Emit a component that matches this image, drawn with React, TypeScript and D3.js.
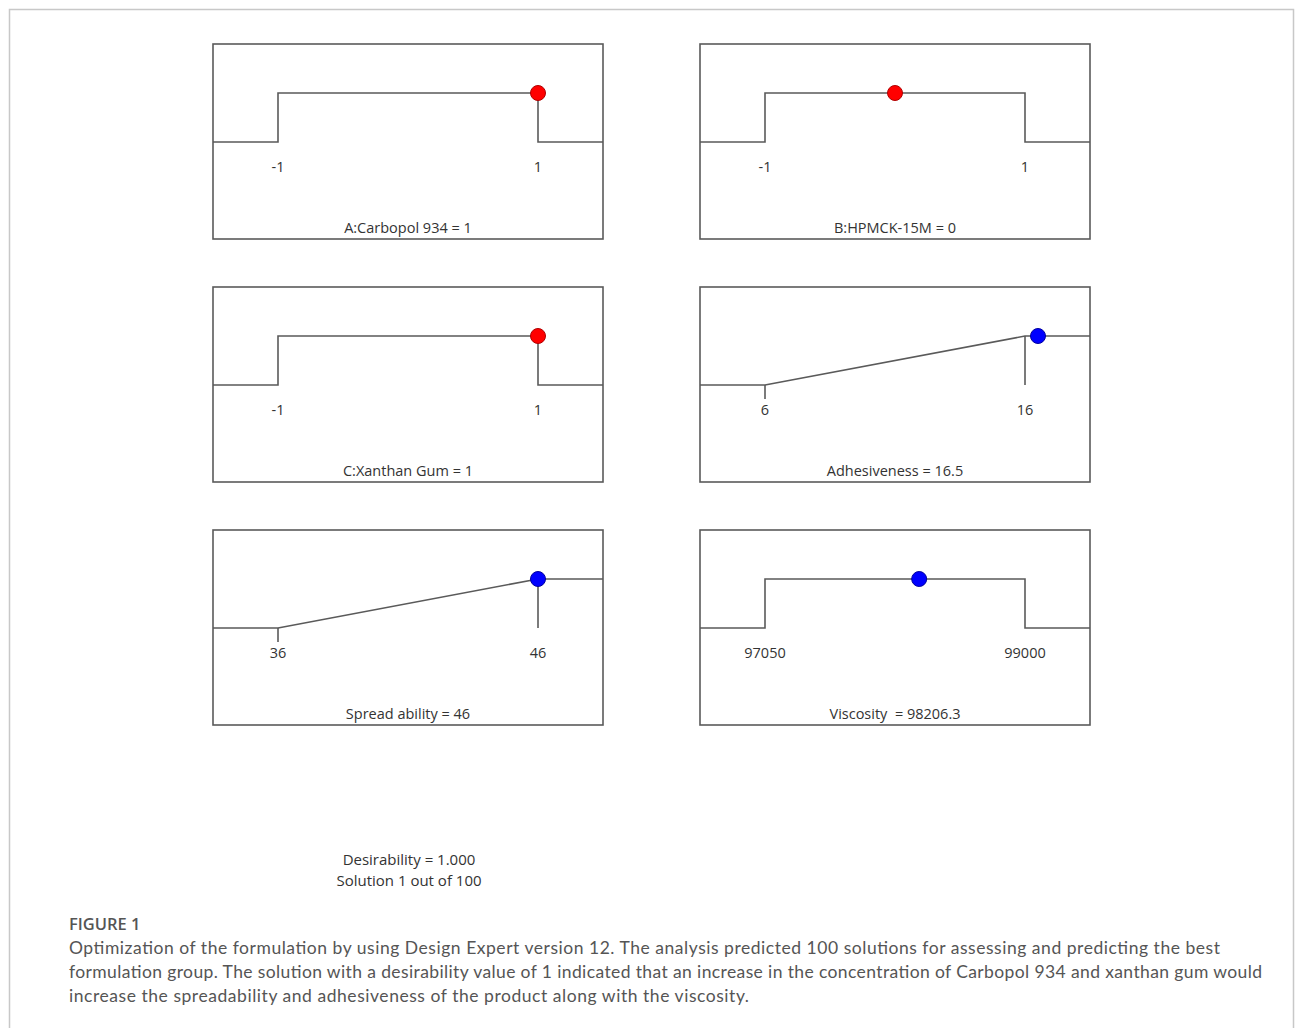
import * as d3 from "d3";

// Design Expert optimization ramps
const panelTitles = [
  "A:Carbopol 934 = 1",
  "B:HPMCK-15M = 0",
  "C:Xanthan Gum = 1",
  "Adhesiveness = 16.5",
  "Spread ability = 46",
  "Viscosity  = 98206.3",
];
const lowLimits = [-1, -1, -1, 6, 36, 97050];
const highLimits = [1, 1, 1, 16, 46, 99000];
const solutionValues = [1, 0, 1, 16.5, 46, 98206.3];
const goalTypes = ["range", "range", "range", "maximize", "maximize", "range"];
const markerColors = ["#ff0000", "#ff0000", "#ff0000", "#0000ff", "#0000ff", "#0000ff"];

const summaryLines = ["Desirability = 1.000", "Solution 1 out of 100"];
const figureLabel = "FIGURE 1";
const captionLines = [
  "Optimization of the formulation by using Design Expert version 12. The analysis predicted 100 solutions for assessing and predicting the best",
  "formulation group. The solution with a desirability value of 1 indicated that an increase in the concentration of Carbopol 934 and xanthan gum would",
  "increase the spreadability and adhesiveness of the product along with the viscosity.",
];
const captionWidths = [1151, 1193, 680];

const W = 1295;
const H = 1028;
const panelW = 390;
const panelH = 195;
const colX = [213, 700];
const rowY = [44, 287, 530];
const lineColor = "#5a5a5a";
const textColor = "#333";
const font = "'Open Sans', 'Noto Sans', sans-serif";

function Panel({ i }: { i: number }) {
  const lo = lowLimits[i];
  const hi = highLimits[i];
  const span = hi - lo;
  const x = d3.scaleLinear().domain([lo - span * 0.25, hi + span * 0.25]).range([0, panelW]);
  const y = d3.scaleLinear().domain([0, 1]).range([98, 49]);
  const [x0, x1] = x.domain();
  const pts: [number, number][] =
    goalTypes[i] === "range"
      ? [[x0, 0], [lo, 0], [lo, 1], [hi, 1], [hi, 0], [x1, 0]]
      : [[x0, 0], [lo, 0], [hi, 1], [x1, 1]];
  const line = d3.line<[number, number]>().x(d => x(d[0])).y(d => y(d[1]));
  const left = colX[i % 2];
  const top = rowY[Math.floor(i / 2)];
  return (
    <g transform={`translate(${left},${top})`}>
      <rect x={0} y={0} width={panelW} height={panelH} fill="none" stroke={lineColor} strokeWidth={1.6} />
      <path d={line(pts) || ""} fill="none" stroke={lineColor} strokeWidth={1.6} />
      {goalTypes[i] === "maximize" && (
        <>
          <line x1={x(lo)} x2={x(lo)} y1={y(0)} y2={y(0) + 14} stroke={lineColor} strokeWidth={1.6} />
          <line x1={x(hi)} x2={x(hi)} y1={y(1)} y2={y(0)} stroke={lineColor} strokeWidth={1.6} />
        </>
      )}
      <circle cx={x(solutionValues[i])} cy={y(1)} r={7.5} fill={markerColors[i]} stroke={i < 3 ? "#b00000" : "#0000a0"} strokeWidth={1} />
      {[lo, hi].map((v, k) => (
        <text key={k} x={x(v)} y={128} textAnchor="middle" fontSize={14.5} fill={textColor} fontFamily={font}>
          {String(v)}
        </text>
      ))}
      <text x={panelW / 2} y={189} textAnchor="middle" fontSize={14.5} fill={textColor} fontFamily={font} style={{ whiteSpace: "pre" }}>
        {panelTitles[i]}
      </text>
    </g>
  );
}

export default function App() {
  return (
    <div style={{ position: "absolute", left: 0, top: 0, background: "#fff" }}>
      <svg width={W} height={H} style={{ display: "block" }}>
        <rect width={W} height={H} fill="#fff" />
        <path d={`M9.5,${H} V9.5 H1293.5 V${H}`} fill="none" stroke="#c8c8c8" strokeWidth={1.5} />
        {panelTitles.map((_, i) => (
          <Panel key={i} i={i} />
        ))}
        {summaryLines.map((s, k) => (
          <text key={k} x={409} y={865 + k * 21} textAnchor="middle" fontSize={15} fill={textColor} fontFamily={font}>
            {s}
          </text>
        ))}
        <text x={69} y={930} fontSize={16.5} fontWeight={600} fill="#555" fontFamily={font}>
          {figureLabel}
        </text>
        {captionLines.map((s, k) => (
          <text
            key={k}
            x={69}
            y={954 + k * 24}
            fontSize={17.5}
            fill="#555"
            fontFamily="Lato, 'Open Sans', sans-serif"
            textLength={captionWidths[k]}
            lengthAdjust="spacing"
          >
            {s}
          </text>
        ))}
      </svg>
    </div>
  );
}
